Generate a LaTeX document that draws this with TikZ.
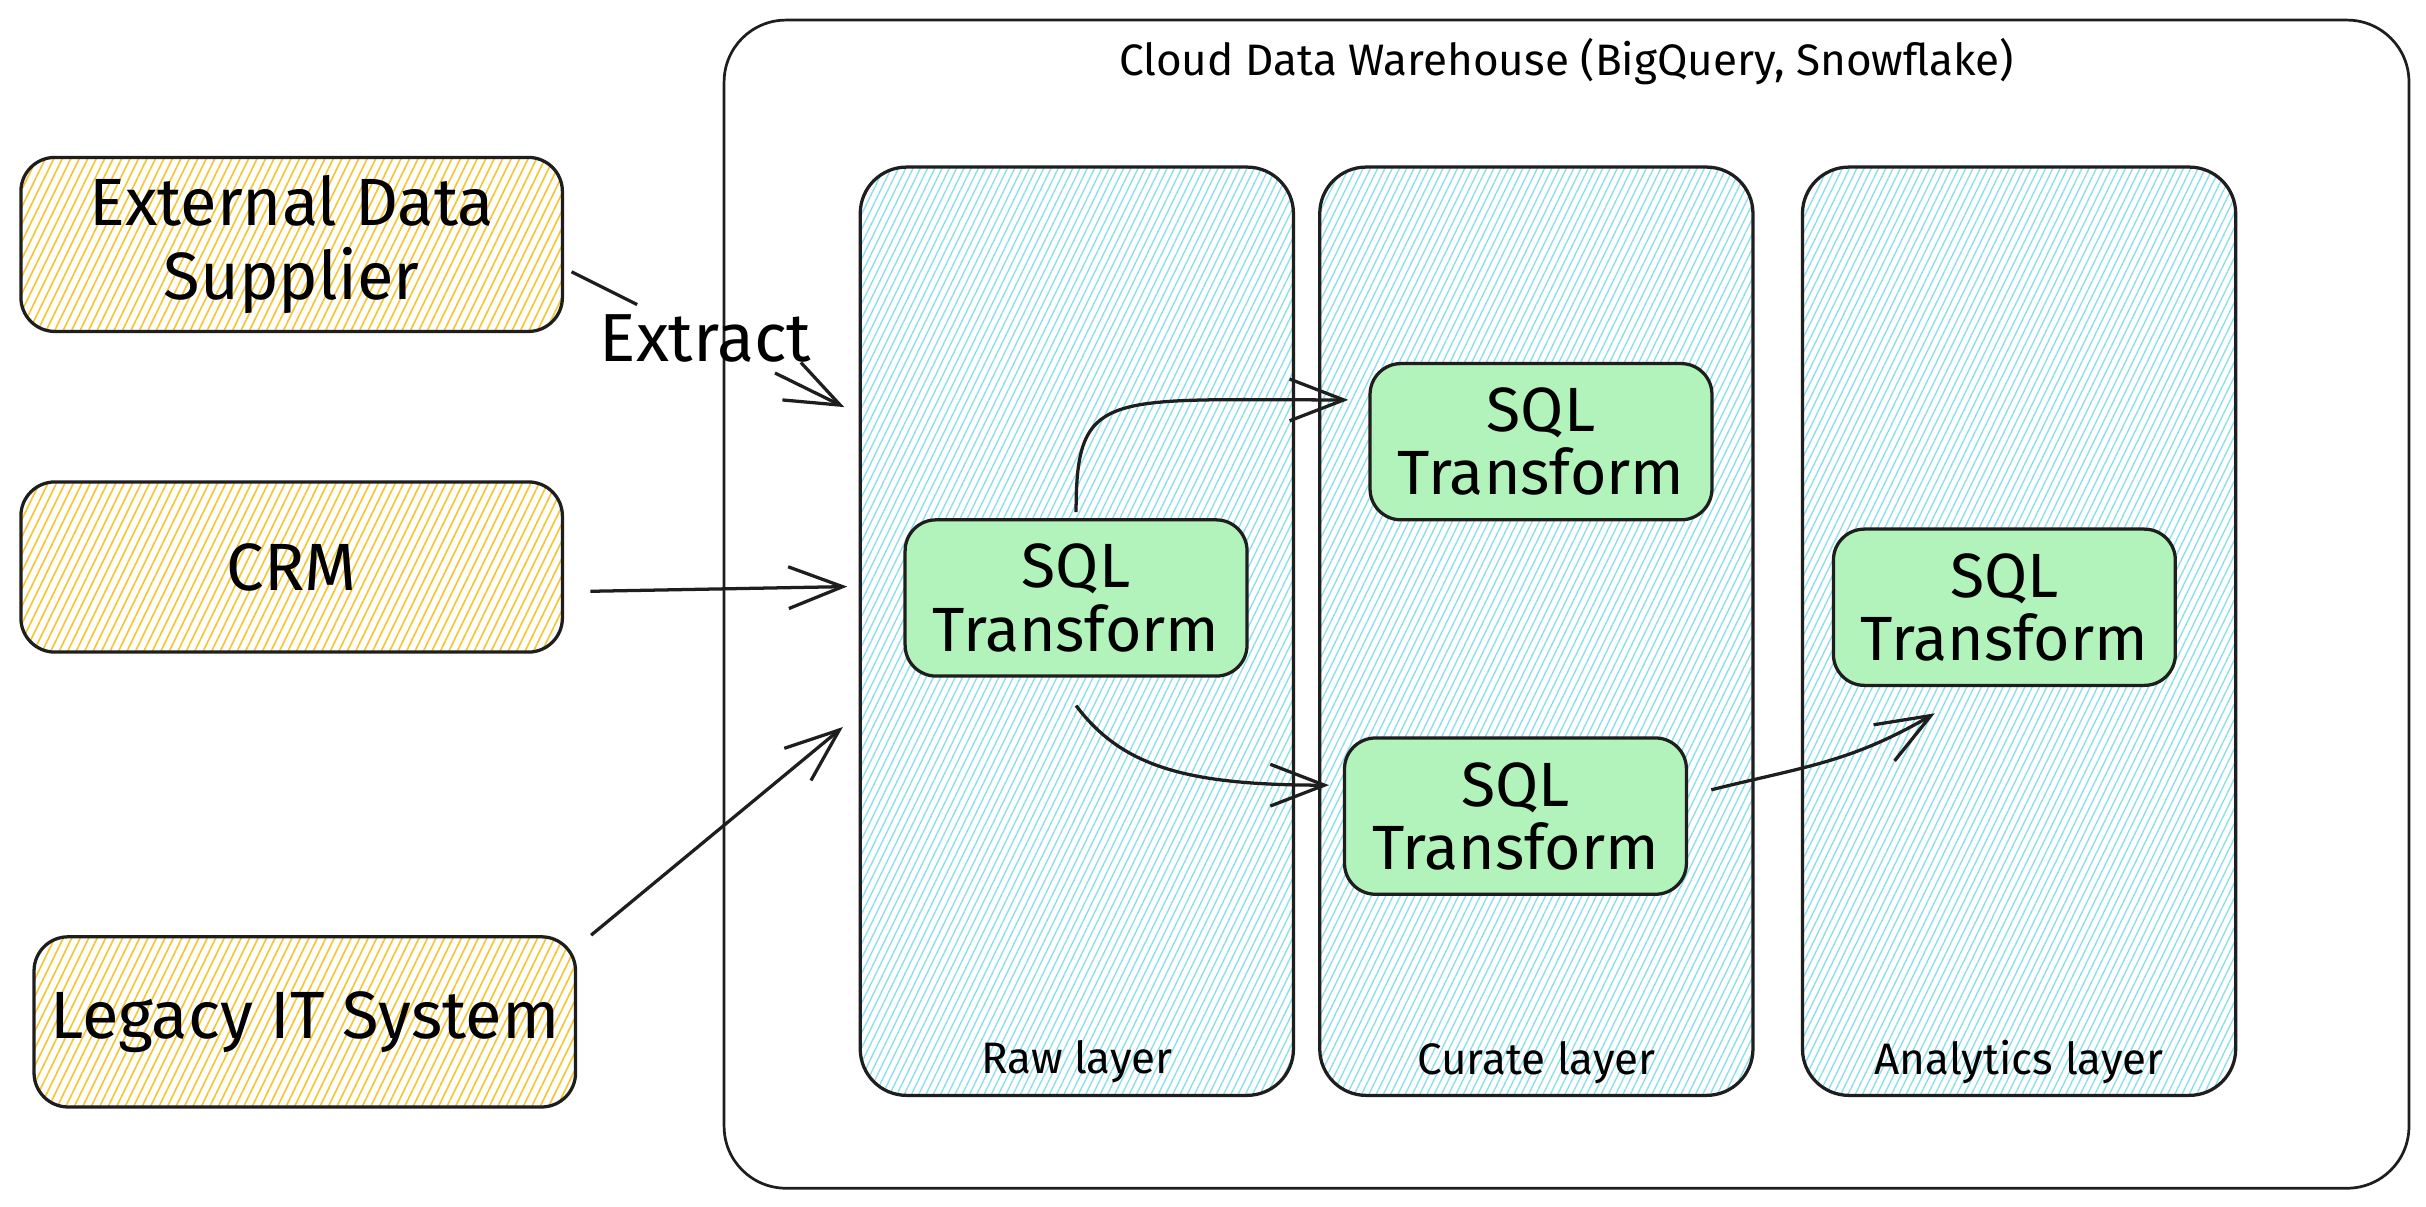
\documentclass[tikz,border=0pt]{standalone}
\usepackage{fontspec}
\setmainfont{Fira Sans}
\usetikzlibrary{arrows.meta,calc,positioning,patterns.meta}

\definecolor{srcyellow}{HTML}{F7C531}
\definecolor{layercyan}{HTML}{8ADFEE}
\definecolor{sqlgreen}{HTML}{B2F2BB}
\definecolor{inkline}{HTML}{1E1E1E}

\begin{document}
\begin{tikzpicture}[x=0.1mm,y=-0.1mm,
  srcbox/.style={draw=inkline,line width=0.6pt,rounded corners=2.2mm,
    minimum width=35mm,minimum height=11mm,align=center,inner xsep=0.5mm,
    pattern={Lines[angle=64,distance=1.4pt,line width=0.3pt]},pattern color=srcyellow,
    font=\fontsize{12.3}{13.5}\selectfont},
  layerbox/.style={draw=inkline,line width=0.6pt,rounded corners=3mm,
    minimum width=28mm,minimum height=60mm,
    pattern={Lines[angle=64,distance=1.2pt,line width=0.25pt]},pattern color=layercyan},
  sqlbox/.style={draw=inkline,line width=0.6pt,rounded corners=2mm,fill=sqlgreen,
    minimum width=22.1mm,minimum height=10.1mm,align=center,
    font=\fontsize{11.5}{11.6}\selectfont},
  smalltext/.style={inner sep=0pt,font=\fontsize{8.1}{9}\selectfont},
  wire/.style={draw=inkline,line width=0.6pt},
  flow/.style={wire,-{Straight Barb[length=3.5mm,width=2.7mm]}}]

\fill[white] (0,0) rectangle (1568,780);
\useasboundingbox (0,0) rectangle (1568,780);

% warehouse and its layers
\node[draw=inkline,line width=0.5pt,rounded corners=4mm,minimum width=108.9mm,minimum height=75.5mm] (dwh) at (1012.5,390.5) {};
\node[smalltext,below=1.2mm of dwh.north] (dwhtitle) {Cloud Data Warehouse (BigQuery, Snowflake)};

\node[layerbox] (raw) at (696,408) {};
\node[layerbox] (curate) at (993,408) {};
\node[layerbox] (analytics) at (1305,408) {};
\node[smalltext,above=0.8mm of raw.south] (rawlbl) {Raw layer};
\node[smalltext,above=0.8mm of curate.south] (curatelbl) {Curate layer};
\node[smalltext,above=0.8mm of analytics.south] (analyticslbl) {Analytics layer};

% sources
\node[srcbox] (ext) at (188.5,158) {External Data\\Supplier};
\node[srcbox] (crm) at (188.5,366.5) {CRM};
\node[srcbox] (legacy) at (197,660.5) {Legacy IT System};

% transforms
\node[sqlbox] (sqlraw) at (695.5,386.5) {SQL\\Transform};
\node[sqlbox] (sqlct) at (996,285.5) {SQL\\Transform};
\node[sqlbox] (sqlcb) at (979.5,527.5) {SQL\\Transform};
\node[sqlbox] (sqlan) at (1295.5,392.5) {SQL\\Transform};

% extract arrows
\node[inner sep=0.6mm,font=\fontsize{12.5}{13.5}\selectfont] (extract) at (456,219) {Extract};
\draw[wire,shorten <=0.6mm] ([yshift=-1.5mm]ext.east) -- (extract);
\draw[flow,shorten >=1.1mm] (extract) -- ([yshift=14mm]raw.west);
\draw[flow,shorten <=1.7mm,shorten >=0.8mm] ([yshift=-1.6mm]crm.east) -- ([yshift=2.9mm]raw.west);
\draw[flow,shorten >=1.4mm] ([xshift=0.9mm]legacy.north east) -- ([yshift=-5.3mm]raw.west);

% transform arrows
\draw[flow,shorten >=1.3mm] ([yshift=0.4mm]sqlraw.north) .. controls +(0,-80) and +(-170,0) .. ([yshift=2.7mm]sqlct.west);
\draw[flow,shorten >=0.9mm] ([yshift=-1.8mm]sqlraw.south) .. controls +(30,40) and +(-100,0) .. ([yshift=2mm]sqlcb.west);
\draw[flow] ([xshift=1.5mm,yshift=1.7mm]sqlcb.east) .. controls +(60,-15) and +(-55,32) .. ([xshift=-4.5mm,yshift=-1.7mm]sqlan.south);

\end{tikzpicture}
\end{document}
